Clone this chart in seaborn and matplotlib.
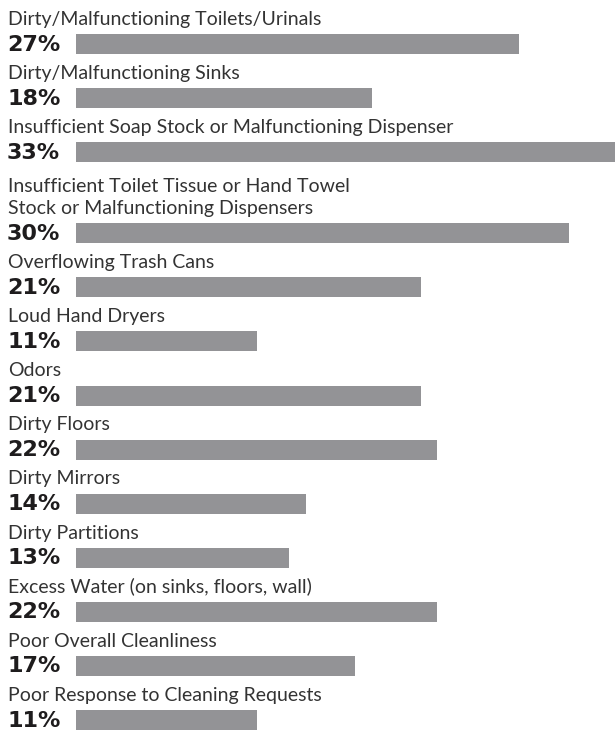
import matplotlib
matplotlib.use("Agg")
import matplotlib.pyplot as plt
import matplotlib.transforms as mtrans
import seaborn as sns
import pandas as pd
import numpy as np

categories = [
    "Dirty/Malfunctioning Toilets/Urinals",
    "Dirty/Malfunctioning Sinks",
    "Insufficient Soap Stock or Malfunctioning Dispenser",
    "Insufficient Toilet Tissue or Hand Towel\nStock or Malfunctioning Dispensers",
    "Overflowing Trash Cans",
    "Loud Hand Dryers",
    "Odors",
    "Dirty Floors",
    "Dirty Mirrors",
    "Dirty Partitions",
    "Excess Water (on sinks, floors, wall)",
    "Poor Overall Cleanliness",
    "Poor Response to Cleaning Requests",
]
values = [27, 18, 33, 30, 21, 11, 21, 22, 14, 13, 22, 17, 11]
pct_labels = [f"{v}%" for v in values]

sns.set_theme(style="white")
plt.rcParams['font.family'] = ['Lato', 'DejaVu Sans']

# slot positions: extra half slot for each additional label line
pos = []
p = 0.0
for i, c in enumerate(categories):
    extra = 0.5 * c.count("\n")
    p += extra
    pos.append(p)
    p += 1.0

df = pd.DataFrame({"cat": categories, "val": values, "pos": pos})

W, H = 615, 736
fig = plt.figure(figsize=(W / 100, H / 100), dpi=100)
ax = fig.add_axes([0, 0, 1, 1])

bar_color = "#939396"
sns.barplot(data=df, x="val", y="pos", orient="y", native_scale=True,
            color=bar_color, width=0.37, saturation=1, edgecolor="none",
            ax=ax)

px_per_unit_x = 16.42
x0_px = 76
ax.set_xlim(-x0_px / px_per_unit_x, (W - x0_px) / px_per_unit_x)
px_per_unit_y = 54.08
y0_px = 44
ax.set_ylim((H - y0_px) / px_per_unit_y, -y0_px / px_per_unit_y)
ax.axis("off")

trans = mtrans.blended_transform_factory(ax.transAxes, ax.transData)
txt_color = "#1e1c1d"
for c, v, yp in zip(categories, pct_labels, pos):
    ax.text(7 / W, yp + 0.01, v, transform=trans, ha="left", va="center",
            fontsize=16, fontweight="bold", color=txt_color,
            family=["DejaVu Sans"])
    ax.text(8 / W, yp - 0.37 / 2 - 0.17, c, transform=trans, ha="left",
            va="baseline", fontsize=14, fontweight="normal", color="#333333",
            linespacing=1.35)

fig.savefig("out.png", dpi=100)
